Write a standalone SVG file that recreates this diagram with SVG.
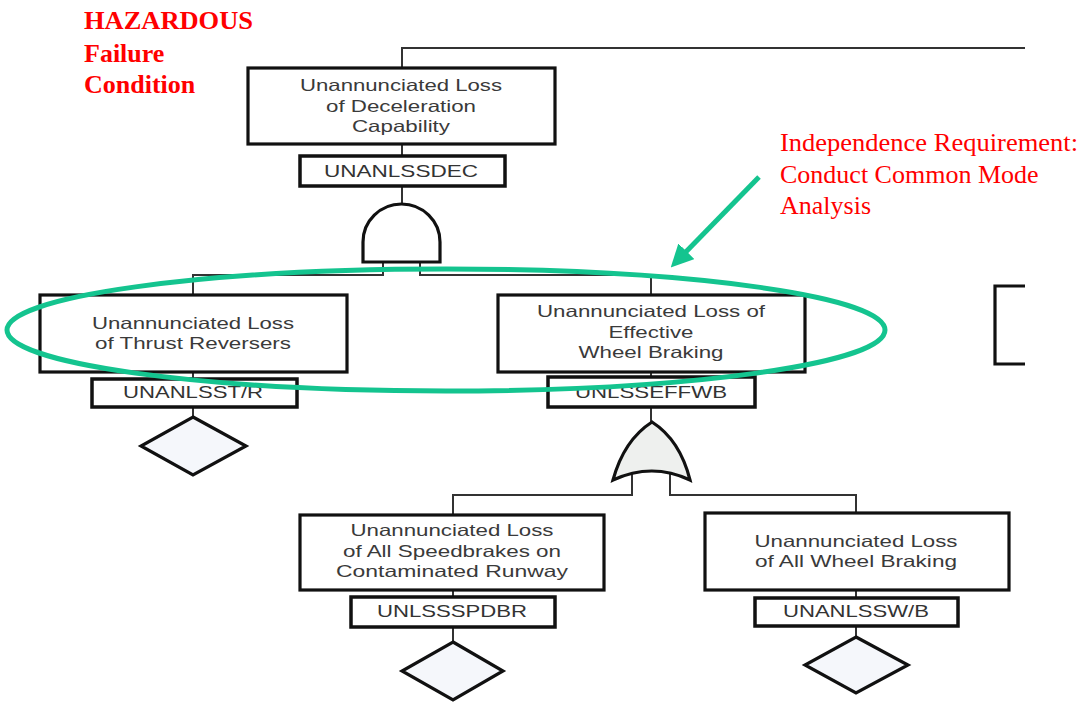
<svg xmlns="http://www.w3.org/2000/svg" width="1089" height="707" viewBox="0 0 1089 707">
<defs>
<style>
.box{fill:#fff;stroke:#111;stroke-width:3.2}
.idb{fill:#fff;stroke:#111;stroke-width:3.5}
.t{font-family:"Liberation Sans",Arial,sans-serif;font-size:16.5px;fill:#3a3a3a;text-anchor:middle}
.id{font-family:"Liberation Sans",Arial,sans-serif;font-size:17px;fill:#333;text-anchor:middle}
.ln{fill:none;stroke:#333;stroke-width:2}
.dia{fill:#f5f7fb;stroke:#111;stroke-width:3.2}
.red{font-family:"Liberation Serif","Times New Roman",serif;fill:#ff0000}
.grn{fill:none;stroke:#14c48f;stroke-width:5}
</style>
<marker id="ah" viewBox="0 0 10 10" refX="6" refY="5" markerWidth="4.5" markerHeight="4.5" orient="auto" markerUnits="strokeWidth">
<path d="M0,0 L10,5 L0,10 Z" fill="#14c48f"/>
</marker>
</defs>
<rect width="1089" height="707" fill="#fff"/>

<g id="connectors">
<path class="ln" d="M402,68 V48 H1025"/>
<path class="ln" d="M402,144 V156"/>
<path class="ln" d="M402,186 V204"/>
<path class="ln" d="M383,262 V275 H193 V295"/>
<path class="ln" d="M420,262 V275 H651 V295"/>
<path class="ln" d="M193,372 V379"/>
<path class="ln" d="M193,407 V417"/>
<path class="ln" d="M651,372 V377"/>
<path class="ln" d="M651,407 V422"/>
<path class="ln" d="M632,474 V495 H453 V515"/>
<path class="ln" d="M670,474 V495 H856 V513"/>
<path class="ln" d="M453,590 V597"/>
<path class="ln" d="M453,627 V642"/>
<path class="ln" d="M856,590 V598"/>
<path class="ln" d="M856,626 V637"/>
</g>

<g id="top-event">
<rect class="box" x="248" y="68" width="307" height="76"/>
<text class="t" x="401" y="91" textLength="202" lengthAdjust="spacingAndGlyphs">Unannunciated Loss</text>
<text class="t" x="401" y="112" textLength="150" lengthAdjust="spacingAndGlyphs">of Deceleration</text>
<text class="t" x="401" y="132" textLength="98" lengthAdjust="spacingAndGlyphs">Capability</text>
<rect class="idb" x="300" y="156" width="205" height="30"/>
<text class="id" x="401" y="177" textLength="154" lengthAdjust="spacingAndGlyphs">UNANLSSDEC</text>
</g>

<g id="and-gate">
<path d="M363,262 V242 A38.5,38 0 0 1 440,242 V262 Z" fill="#fff" stroke="#111" stroke-width="3.2"/>
</g>

<g id="thrust-reversers">
<rect class="box" x="40" y="295" width="307" height="77"/>
<text class="t" x="193" y="329" textLength="202" lengthAdjust="spacingAndGlyphs">Unannunciated Loss</text>
<text class="t" x="193" y="349" textLength="196" lengthAdjust="spacingAndGlyphs">of Thrust Reversers</text>
<rect class="idb" x="92" y="379" width="205" height="28"/>
<text class="id" x="193" y="398" textLength="140" lengthAdjust="spacingAndGlyphs">UNANLSST/R</text>
<polygon class="dia" points="193,417 246,446 193,475 141,446"/>
</g>

<g id="wheel-braking">
<rect class="box" x="498" y="295" width="307" height="77"/>
<text class="t" x="651" y="317" textLength="228" lengthAdjust="spacingAndGlyphs">Unannunciated Loss of</text>
<text class="t" x="651" y="338" textLength="85" lengthAdjust="spacingAndGlyphs">Effective</text>
<text class="t" x="651" y="358" textLength="145" lengthAdjust="spacingAndGlyphs">Wheel Braking</text>
<rect class="idb" x="548" y="377" width="207" height="30"/>
<text class="id" x="651" y="398" textLength="152" lengthAdjust="spacingAndGlyphs">UNLSSEFFWB</text>
</g>

<g id="or-gate">
<path d="M652,422 Q624,440 613,480 Q652,462 690,480 Q680,440 652,422 Z" fill="#eef0ee" stroke="#111" stroke-width="3.2"/>
</g>

<g id="speedbrakes">
<rect class="box" x="300" y="515" width="304" height="75"/>
<text class="t" x="452" y="536" textLength="203" lengthAdjust="spacingAndGlyphs">Unannunciated Loss</text>
<text class="t" x="452" y="557" textLength="218" lengthAdjust="spacingAndGlyphs">of All Speedbrakes on</text>
<text class="t" x="452" y="577" textLength="232" lengthAdjust="spacingAndGlyphs">Contaminated Runway</text>
<rect class="idb" x="351" y="597" width="204" height="30"/>
<text class="id" x="452" y="617" textLength="150" lengthAdjust="spacingAndGlyphs">UNLSSSPDBR</text>
<polygon class="dia" points="453,642 503,671 453,700 402,671"/>
</g>

<g id="all-wheel-braking">
<rect class="box" x="705" y="513" width="304" height="77"/>
<text class="t" x="856" y="547" textLength="203" lengthAdjust="spacingAndGlyphs">Unannunciated Loss</text>
<text class="t" x="856" y="567" textLength="202" lengthAdjust="spacingAndGlyphs">of All Wheel Braking</text>
<rect class="idb" x="755" y="598" width="203" height="28"/>
<text class="id" x="856" y="617" textLength="146" lengthAdjust="spacingAndGlyphs">UNANLSSW/B</text>
<polygon class="dia" points="856,637 908,665 856,693 805,665"/>
</g>

<g id="partial-node">
<path d="M1025,286 H995 V364 H1025" fill="none" stroke="#111" stroke-width="3.2"/>
</g>

<g id="hazard-label">
<text class="red" x="84" y="29" font-size="26" font-weight="bold" textLength="169" lengthAdjust="spacingAndGlyphs">HAZARDOUS</text>
<text class="red" x="84" y="62" font-size="26" font-weight="bold">Failure</text>
<text class="red" x="84" y="93" font-size="26" font-weight="bold">Condition</text>
</g>

<g id="independence-note">
<text class="red" x="780" y="151" font-size="26" textLength="298" lengthAdjust="spacingAndGlyphs">Independence Requirement:</text>
<text class="red" x="780" y="183" font-size="26">Conduct Common Mode</text>
<text class="red" x="780" y="214" font-size="26">Analysis</text>
</g>

<g id="annotation">
<ellipse class="grn" cx="446" cy="330" rx="439" ry="61"/>
<line class="grn" x1="759" y1="177" x2="677" y2="261" marker-end="url(#ah)"/>
</g>
</svg>
